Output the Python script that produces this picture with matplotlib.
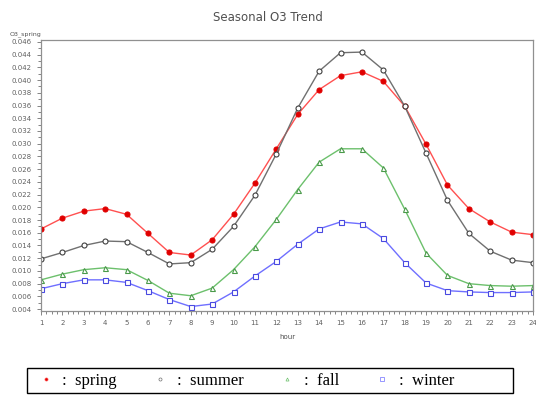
import matplotlib
matplotlib.use('Agg')
from matplotlib import pyplot as plt
from matplotlib.patches import Rectangle
from matplotlib.ticker import MultipleLocator, FormatStrFormatter

# hourly mean O3 (ppm) by season
hours = list(range(1, 25))
spring = [0.0166, 0.0183, 0.0194, 0.0198, 0.0189, 0.0159, 0.0129, 0.0125,
          0.0149, 0.0189, 0.0238, 0.0292, 0.0346, 0.0385, 0.0407, 0.0413,
          0.0398, 0.0359, 0.0299, 0.0235, 0.0198, 0.0177, 0.0161, 0.0157]
summer = [0.0119, 0.0129, 0.0140, 0.0147, 0.0146, 0.0129, 0.0111, 0.0113,
          0.0134, 0.0170, 0.0219, 0.0284, 0.0356, 0.0414, 0.0443, 0.0444,
          0.0416, 0.0359, 0.0285, 0.0211, 0.0159, 0.0131, 0.0117, 0.0113]
fall = [0.0086, 0.0095, 0.0102, 0.0105, 0.0102, 0.0085, 0.0065, 0.0061,
        0.0073, 0.0102, 0.0138, 0.0181, 0.0228, 0.0271, 0.0292, 0.0292,
        0.0262, 0.0197, 0.0128, 0.0093, 0.0080, 0.0077, 0.0076, 0.0077]
winter = [0.0072, 0.0080, 0.0086, 0.0086, 0.0082, 0.0069, 0.0055, 0.0044,
          0.0048, 0.0067, 0.0092, 0.0115, 0.0142, 0.0166, 0.0177, 0.0174,
          0.0151, 0.0113, 0.0081, 0.0069, 0.0067, 0.0066, 0.0066, 0.0067]

fig = plt.figure(figsize=(5.36, 3.96), dpi=100)
ax = fig.add_axes([0.0765, 0.2146, 0.918, 0.6844])

# (values, label, line colour, marker, marker face, marker edge)
series = [
    (spring, 'spring', '#ff5050', 'o', '#e00000', '#e00000'),
    (summer, 'summer', '#707070', 'o', 'white', '#404040'),
    (fall, 'fall', '#6cc06c', '^', 'white', '#4a9a4a'),
    (winter, 'winter', '#6f6fff', 's', 'white', '#4a4ae0'),
]

for vals, lab, lc, mk, mfc, mec in series:
    ax.plot(hours, vals, color=lc, linewidth=1.0, marker=mk, markersize=3.6,
            markerfacecolor=mfc, markeredgecolor=mec, markeredgewidth=0.8)

ax.set_xlim(1, 24)
ax.set_ylim(0.0037, 0.0463)
ax.xaxis.set_major_locator(MultipleLocator(1))
ax.xaxis.set_minor_locator(MultipleLocator(0.25))
ax.yaxis.set_major_locator(MultipleLocator(0.002))
ax.yaxis.set_minor_locator(MultipleLocator(0.001))
ax.yaxis.set_major_formatter(FormatStrFormatter('%.3f'))
ax.tick_params(which='both', direction='out', colors='#707070', labelsize=5,
               labelcolor='#606060', width=0.6)
ax.tick_params(which='major', length=3)
ax.tick_params(which='minor', length=2)
for sp in ax.spines.values():
    sp.set_color('#909090')
    sp.set_linewidth(0.9)

ax.set_xlabel('hour', fontsize=5, color='#505050', labelpad=6)
ax.text(0.0, 1.01, 'O3_spring', transform=ax.transAxes, ha='right',
        va='bottom', fontsize=4.5, color='#505050')
fig.text(0.5, 0.957, 'Seasonal O3 Trend', ha='center', va='center',
         fontsize=8.5, color='#505050')

# legend along the bottom: tiny marker, then ": name", inside a plain box
handles = [plt.Line2D([], [], linestyle='none', marker=mk, markersize=2.2,
                      markerfacecolor=mfc, markeredgecolor=lc,
                      markeredgewidth=0.5)
           for vals, lab, lc, mk, mfc, mec in series]
labels = [':  ' + s[1] for s in series]
fig.legend(handles, labels, loc='center left', bbox_to_anchor=(0.068, 0.0385),
           ncol=4, frameon=False,
           prop={'family': 'Liberation Serif', 'size': 12},
           handlelength=0.8, handletextpad=0.6, columnspacing=2.2,
           borderpad=0.15, borderaxespad=0)
fig.patches.append(Rectangle((27 / 536, 3 / 396), 486 / 536, 25 / 396,
                             transform=fig.transFigure, fill=False,
                             edgecolor='black', linewidth=1.0))

fig.savefig('out.png', dpi=100)
